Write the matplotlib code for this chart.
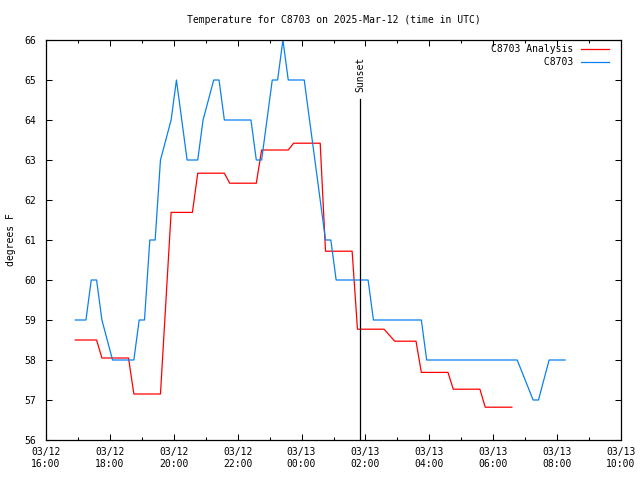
import datetime as dt
import matplotlib
matplotlib.use('Agg')
import matplotlib.pyplot as plt
import matplotlib.dates as mdates

# C8703 observations (03/12 -> 03/13, UTC)
obs_times = ['03/12 16:55', '03/12 17:15', '03/12 17:25', '03/12 17:35', '03/12 17:45',
             '03/12 18:05', '03/12 18:45', '03/12 18:55', '03/12 19:05', '03/12 19:15',
             '03/12 19:25', '03/12 19:35', '03/12 19:55', '03/12 20:05', '03/12 20:15',
             '03/12 20:25', '03/12 20:45', '03/12 20:55', '03/12 21:15', '03/12 21:25',
             '03/12 21:35', '03/12 22:25', '03/12 22:35', '03/12 22:45', '03/12 23:05',
             '03/12 23:15', '03/12 23:25', '03/12 23:35', '03/13 00:05', '03/13 00:15',
             '03/13 00:45', '03/13 00:55', '03/13 01:05', '03/13 02:05', '03/13 02:15',
             '03/13 03:45', '03/13 03:55', '03/13 06:45', '03/13 07:15', '03/13 07:25',
             '03/13 07:45', '03/13 08:15']
obs_temp = [59, 59, 60, 60, 59,
            58, 58, 59, 59, 61,
            61, 63, 64, 65, 64,
            63, 63, 64, 65, 65,
            64, 64, 63, 63, 65,
            65, 66, 65, 65, 64,
            61, 61, 60, 60, 59,
            59, 58, 58, 57, 57,
            58, 58]

# C8703 analysis
ana_times = ['03/12 16:55', '03/12 17:35', '03/12 17:45', '03/12 18:35', '03/12 18:45',
             '03/12 19:35', '03/12 19:55', '03/12 20:35', '03/12 20:45', '03/12 21:35',
             '03/12 21:45', '03/12 22:35', '03/12 22:45', '03/12 23:35', '03/12 23:45',
             '03/13 00:35', '03/13 00:45', '03/13 01:35', '03/13 01:45', '03/13 02:35',
             '03/13 02:55', '03/13 03:35', '03/13 03:45', '03/13 04:35', '03/13 04:45',
             '03/13 05:35', '03/13 05:45', '03/13 06:35']
ana_temp = [58.50, 58.50, 58.05, 58.05, 57.15,
            57.15, 61.69, 61.69, 62.67, 62.67,
            62.42, 62.42, 63.25, 63.25, 63.42,
            63.42, 60.72, 60.72, 58.77, 58.77,
            58.47, 58.47, 57.69, 57.69, 57.27,
            57.27, 56.82, 56.82]

sunset = '03/13 01:50'
x_start, x_end = '03/12 16:00', '03/13 10:00'


def to_dt(s):
    return dt.datetime.strptime('2025/' + s, '%Y/%m/%d %H:%M')


plt.rcParams['font.family'] = 'DejaVu Sans Mono'
plt.rcParams['font.size'] = 7

fig = plt.figure(figsize=(6.4, 4.8), dpi=100)
ax = fig.add_axes([46 / 640, 40 / 480, 575 / 640, 400 / 480])

labels = ['C8703 Analysis', 'C8703']
w = max(len(l) for l in labels)
ax.plot([to_dt(t) for t in ana_times], ana_temp, color='#ff0000', lw=0.9,
        label=labels[0].rjust(w))
ax.plot([to_dt(t) for t in obs_times], obs_temp, color='#0a80f0', lw=0.9,
        label=labels[1].rjust(w))

ss = to_dt(sunset)
ax.axvline(ss, ymin=0, ymax=(440 - 99) / 400, color='black', lw=0.9)
ax.text(ss, 64.7, 'Sunset', rotation=90, ha='center', va='bottom')

ax.set_xlim(to_dt(x_start), to_dt(x_end))
ax.set_ylim(56, 66)
ax.set_yticks(range(56, 67))
ax.xaxis.set_major_locator(mdates.HourLocator(byhour=range(0, 24, 2)))
ax.xaxis.set_minor_locator(mdates.HourLocator())
ax.xaxis.set_major_formatter(mdates.DateFormatter('%m/%d\n%H:%M'))

ax.tick_params(which='both', direction='in', top=True, right=True, width=0.75)
ax.tick_params(which='major', length=4, pad=5)
ax.tick_params(axis='y', which='major', pad=7)
ax.tick_params(which='minor', length=2)
for s in ax.spines.values():
    s.set_linewidth(0.9)

ax.set_ylabel('degrees F', labelpad=6)
ax.set_title('Temperature for C8703 on 2025-Mar-12 (time in UTC)', fontsize=7, pad=12)

ax.legend(loc='upper right', bbox_to_anchor=(0.979, 0.99), frameon=False,
          markerfirst=False, handlelength=2.9, handletextpad=0.8,
          labelspacing=0.35, borderpad=0, borderaxespad=0)

fig.savefig('out.png', dpi=100)
